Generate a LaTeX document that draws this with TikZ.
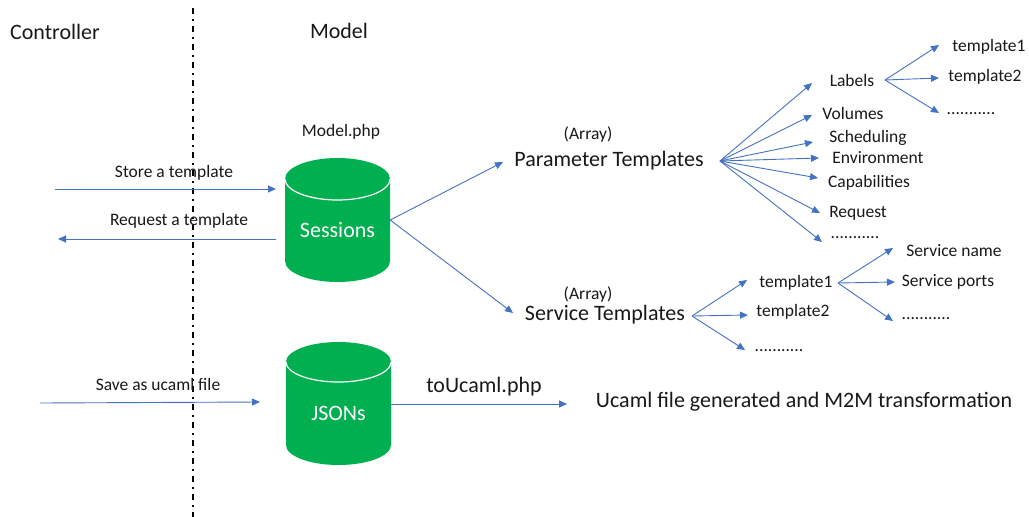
\documentclass[tikz,border=0pt]{standalone}
\usepackage{fontspec}
\setmainfont{Carlito}
\usetikzlibrary{arrows.meta}
\definecolor{arrblue}{HTML}{4472C4}
\definecolor{cylgreen}{HTML}{00B050}
\tikzset{
  arr/.style={draw=arrblue, line width=0.9pt, -{Triangle[length=8pt,width=7pt]}},
  big/.style={font=\fontsize{22}{26}\selectfont, inner sep=0pt, text=black!90},
  small/.style={font=\fontsize{17.5}{21}\selectfont, inner sep=0pt, text=black!90},
  cyltext/.style={font=\fontsize{22}{26}\selectfont, text=white, inner sep=0pt},
  cylbody/.style={inner sep=0pt},
  divider/.style={line width=1.8pt, dash pattern=on 6pt off 5pt on 2pt off 5pt},
}
\newcommand{\mycyl}[5]{% x left, x right, y top, y bottom, ry
  \fill[cylgreen] (#1,#3+#5) arc[start angle=180, end angle=360, x radius={(#2-#1)/2}, y radius=#5]
    -- (#2,#4-#5) arc[start angle=0, end angle=180, x radius={(#2-#1)/2}, y radius=#5] -- cycle;
  \draw[white, line width=1.2pt] (#1,#3+#5) arc[start angle=180, end angle=0, x radius={(#2-#1)/2}, y radius=#5];
}
\begin{document}
\begin{tikzpicture}[x=1pt, y=-1pt]
\useasboundingbox[fill=white] (0,0) rectangle (1029,517);

% divider
\coordinate (dtop) at (193,8);
\coordinate (dbot) at (193,517);
\draw[divider] (dtop) -- (dbot);

% titles
\node[big] (ctrl) at (55,32) {Controller};
\node[big] (model) at (339,31) {Model};
\node[small] (mphp) at (341,132) {Model.php};

% cylinders
\mycyl{285}{390}{158}{282}{21}
\node[cylbody, minimum width=105pt, minimum height=124pt] (sess) at (337.5,220) {};
\node[cyltext] (sesslbl) at (337.5,230) {Sessions};
\mycyl{286}{391}{342}{465}{20}
\node[cylbody, minimum width=105pt, minimum height=123pt] (json) at (338.5,403.5) {};
\node[cyltext] (jsonlbl) at (338.5,413) {JSONs};

% controller arrows
\coordinate (s1) at (55,189);
\coordinate (s2) at (276,189);
\draw[arr] (s1) -- (s2);
\node[small] (lstore) at (174,173) {Store a template};
\coordinate (r1) at (276,239);
\coordinate (r2) at (58,239);
\draw[arr] (r1) -- (r2);
\node[small] (lreq) at (179,221) {Request a template};
\coordinate (u1) at (40,403);
\coordinate (u2) at (260,402);
\draw[arr] (u1) -- (u2);
\node[small] (lsave) at (158,384) {Save as ucaml file};

% templates
\node[small] (arr1) at (588,135) {(Array)};
\node[big] (ptpl) at (609,161) {Parameter Templates};
\node[small] (arr2) at (588,295) {(Array)};
\node[big] (stpl) at (605,315) {Service Templates};
\coordinate (pin) at (503,162);
\coordinate (sin) at (513,313);
\draw[arr] (sess.east) -- (pin);
\draw[arr] (sess.east) -- (sin);

% parameter fan
\coordinate (pf) at (720,161);
\node[small] (labels) at (852,80) {Labels};
\node[small] (vol) at (853,113) {Volumes};
\node[small] (sched) at (868,138) {Scheduling};
\node[small] (env) at (878,158) {Environment};
\node[small] (cap) at (869,183) {Capabilities};
\node[small] (req) at (858,213) {Request};
\node[small] (pdots) at (855,238) {...........};
\coordinate (tl) at (812,83);
\coordinate (tv) at (812,115);
\coordinate (ts) at (813,142);
\coordinate (te) at (819,158);
\coordinate (tc) at (818,178);
\coordinate (tr) at (820,213);
\coordinate (td) at (822,242);
\foreach \t in {tl,tv,ts,te,tc,tr,td} \draw[arr] (pf) -- (\t);

% labels fan
\coordinate (lf) at (885,80);
\node[small] (lt1) at (989,47) {template1};
\node[small] (lt2) at (985,77) {template2};
\node[small] (ldots) at (971,114) {...........};
\coordinate (tl1) at (939,45);
\coordinate (tl2) at (939,78);
\coordinate (tl3) at (939,113);
\foreach \t in {tl1,tl2,tl3} \draw[arr] (lf) -- (\t);

% service fan
\coordinate (sf) at (692,316);
\node[small] (st1) at (796,283) {template1};
\node[small] (st2) at (793,312) {template2};
\node[small] (sdots) at (779,351) {...........};
\coordinate (ts1) at (747,280);
\coordinate (ts2) at (748,315);
\coordinate (ts3) at (745,350);
\foreach \t in {ts1,ts2,ts3} \draw[arr] (sf) -- (\t);

% template1 fan
\coordinate (tf) at (838,283);
\node[small] (sname) at (954,251) {Service name};
\node[small] (sports) at (948,282) {Service ports};
\node[small] (tdots) at (926,319) {...........};
\coordinate (tn1) at (893,248);
\coordinate (tn2) at (895,282);
\coordinate (tn3) at (893,321);
\foreach \t in {tn1,tn2,tn3} \draw[arr] (tf) -- (\t);

% bottom
\node[big] (toU) at (484,387) {toUcaml.php};
\node[big] (ucaml) at (804,402) {Ucaml file generated and M2M transformation};
\coordinate (uend) at (567,404);
\draw[arr] (json.east |- 0,404) -- (uend);
\end{tikzpicture}
\end{document}
